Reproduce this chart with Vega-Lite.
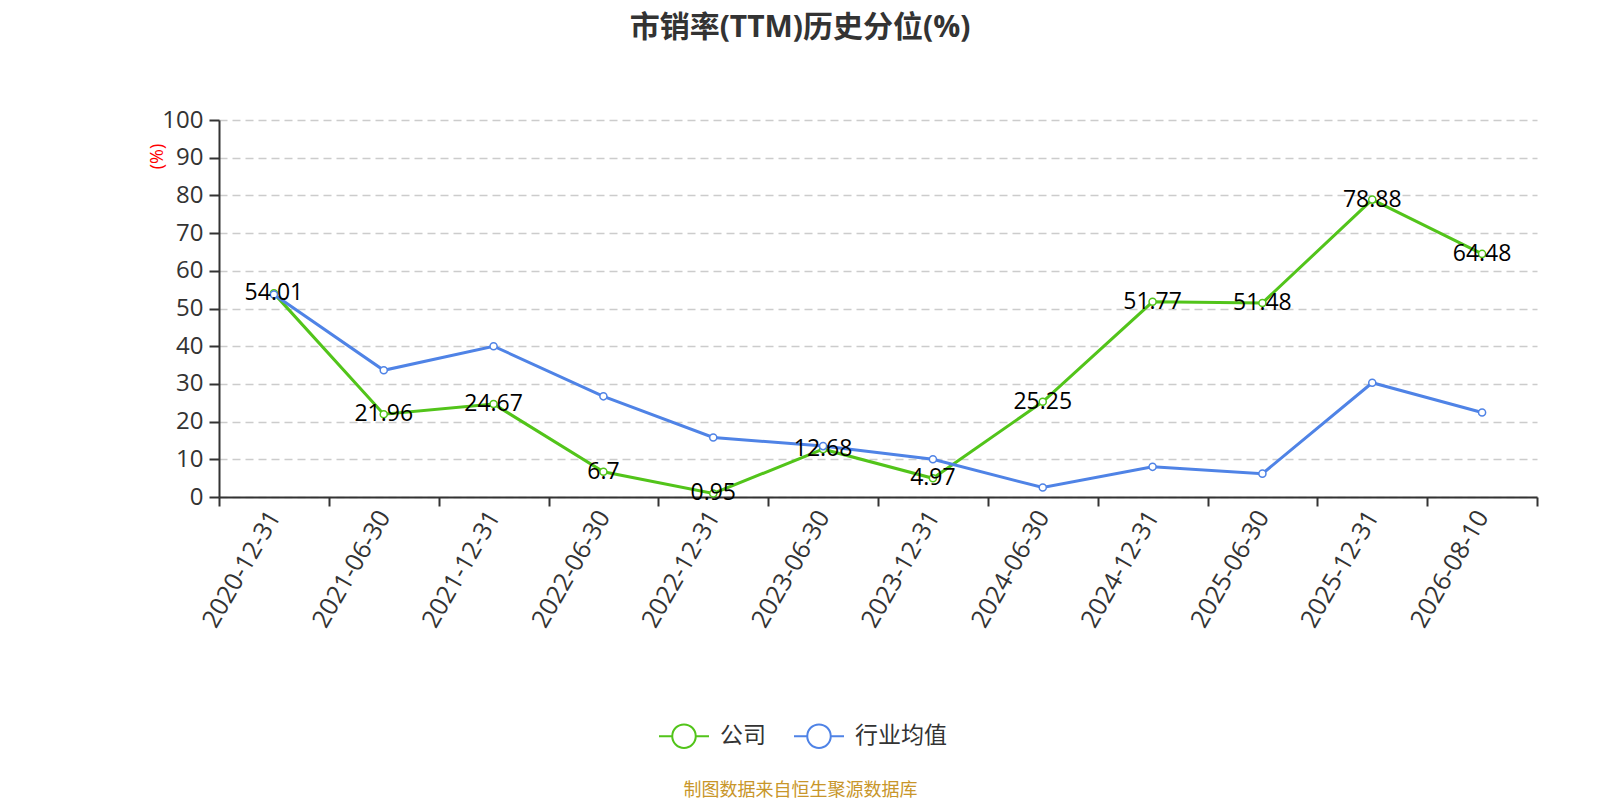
{
  "$schema": "https://vega.github.io/schema/vega-lite/v6.json",
  "autosize": "none",
  "width": 1318,
  "height": 377,
  "padding": {"left": 219, "top": 120, "right": 63, "bottom": 303},
  "background": "white",
  "title": {
    "text": "市销率(TTM)历史分位(%)",
    "anchor": "middle",
    "dx": -78,
    "offset": 65,
    "fontSize": 30,
    "fontWeight": "bold",
    "color": "#333333",
    "font": "Open Sans, Noto Sans CJK SC"
  },
  "config": {
    "font": "Open Sans, Noto Sans CJK SC",
    "view": {"stroke": null}
  },
  "data": {
    "values": [
      {"date": "2020-12-31", "series": "公司", "value": 54.01},
      {"date": "2021-06-30", "series": "公司", "value": 21.96},
      {"date": "2021-12-31", "series": "公司", "value": 24.67},
      {"date": "2022-06-30", "series": "公司", "value": 6.7},
      {"date": "2022-12-31", "series": "公司", "value": 0.95},
      {"date": "2023-06-30", "series": "公司", "value": 12.68},
      {"date": "2023-12-31", "series": "公司", "value": 4.97},
      {"date": "2024-06-30", "series": "公司", "value": 25.25},
      {"date": "2024-12-31", "series": "公司", "value": 51.77},
      {"date": "2025-06-30", "series": "公司", "value": 51.48},
      {"date": "2025-12-31", "series": "公司", "value": 78.88},
      {"date": "2026-08-10", "series": "公司", "value": 64.48},
      {"date": "2020-12-31", "series": "行业均值", "value": 53.7},
      {"date": "2021-06-30", "series": "行业均值", "value": 33.6},
      {"date": "2021-12-31", "series": "行业均值", "value": 40.0},
      {"date": "2022-06-30", "series": "行业均值", "value": 26.7},
      {"date": "2022-12-31", "series": "行业均值", "value": 15.8},
      {"date": "2023-06-30", "series": "行业均值", "value": 13.5},
      {"date": "2023-12-31", "series": "行业均值", "value": 10.0},
      {"date": "2024-06-30", "series": "行业均值", "value": 2.5},
      {"date": "2024-12-31", "series": "行业均值", "value": 8.0},
      {"date": "2025-06-30", "series": "行业均值", "value": 6.2},
      {"date": "2025-12-31", "series": "行业均值", "value": 30.3},
      {"date": "2026-08-10", "series": "行业均值", "value": 22.4}
    ]
  },
  "encoding": {
    "x": {
      "field": "date",
      "type": "ordinal",
      "scale": {"type": "band", "paddingInner": 0, "paddingOuter": 0},
      "axis": {
        "title": "制图数据来自恒生聚源数据库",
        "titleColor": "#c8962a",
        "titleFontSize": 18,
        "titleFontWeight": "normal",
        "titleX": 581,
        "titleY": 293,
        "titleAlign": "center",
        "titleBaseline": "middle",
        "labelAngle": -60,
        "labelFontSize": 25,
        "labelColor": "#333333",
        "labelPadding": 6,
        "tickBand": "extent",
        "tickSize": 9,
        "tickWidth": 2,
        "tickColor": "#333333",
        "domainColor": "#333333",
        "domainWidth": 2,
        "grid": false
      }
    },
    "y": {
      "field": "value",
      "type": "quantitative",
      "scale": {"domain": [0, 100], "nice": false},
      "axis": {
        "title": "(%)",
        "titleColor": "#ff0000",
        "titleFontSize": 18,
        "titleFontWeight": "normal",
        "titleX": -62,
        "titleY": 36,
        "titleAlign": "center",
        "titleBaseline": "middle",
        "values": [0, 10, 20, 30, 40, 50, 60, 70, 80, 90, 100],
        "labelFontSize": 24,
        "labelColor": "#333333",
        "labelPadding": 6,
        "tickSize": 10,
        "tickWidth": 2,
        "tickColor": "#333333",
        "domainColor": "#333333",
        "domainWidth": 2,
        "grid": true,
        "gridColor": "#cccccc",
        "gridDash": [8, 5],
        "gridWidth": 1.5
      }
    }
  },
  "layer": [
    {
      "mark": {"type": "line", "strokeWidth": 3},
      "encoding": {
        "color": {
          "field": "series",
          "type": "nominal",
          "scale": {"domain": ["公司", "行业均值"], "range": ["#52c41a", "#4f83e6"]},
          "legend": {
            "orient": "none",
            "legendX": 439,
            "legendY": 590,
            "direction": "horizontal",
            "title": null,
            "symbolType": "M-1,0L-0.47,0M0.47,0L1,0M0.47,0A0.47,0.47,0,1,1,-0.47,0A0.47,0.47,0,1,1,0.47,0",
            "symbolSize": 2500,
            "symbolStrokeWidth": 2,
            "symbolFillColor": "white",
            "labelFontSize": 23,
            "labelColor": "#333333",
            "labelOffset": 10,
            "columnPadding": 24
          }
        }
      }
    },
    {
      "mark": {"type": "point", "filled": false, "fill": "white", "size": 50, "strokeWidth": 1.5, "opacity": 1},
      "encoding": {
        "color": {"field": "series", "type": "nominal"}
      }
    },
    {
      "transform": [{"filter": "datum.series === '公司'"}],
      "mark": {"type": "text", "fontSize": 23, "color": "#000000", "align": "center", "baseline": "middle"},
      "encoding": {
        "text": {"field": "value", "type": "nominal"}
      }
    }
  ]
}
